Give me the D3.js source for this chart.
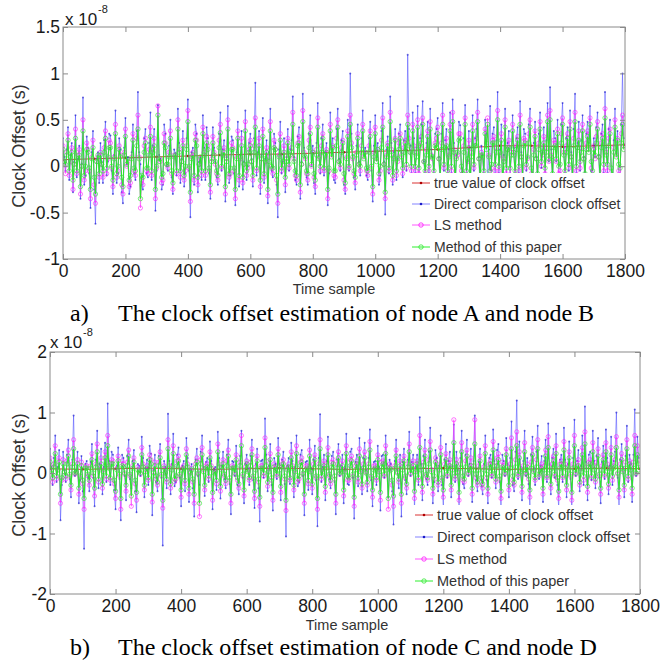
<!DOCTYPE html>
<html><head><meta charset="utf-8">
<script src="https://cdn.jsdelivr.net/npm/d3@7"></script>
<style>body{margin:0;background:#fff}svg{display:block}</style>
</head><body>
<svg id="c" width="662" height="661"></svg>
<script>
// ---- data (values in units of 1e-10 s, i.e. hundredths of the 1e-8 axis unit) ----
const xTicks = [0,200,400,600,800,1000,1200,1400,1600,1800];
const yTicksA = [-100,-50,0,50,100,150];
const yTickLabelsA = ["-1","-0.5","0","0.5","1","1.5"];
const yTicksB = [-200,-100,0,100,200];
const yTickLabelsB = ["-2","-1","0","1","2"];
const seriesNames = ["true value of clock offset","Direct comparison clock offset","LS method","Method of this paper"];
const captionA = ["a)","The clock offset estimation of node A and node B"];
const captionB = ["b)","The clock offset estimation of node C and node D"];
const sampleStep = 4;   // time samples between stored noisy points
const trueStep = 100;   // time samples between stored true-value points

const trueA = [7,8,9,10,11,12,13,13,14,15,16,17,18,20,22,22,21,22,23];
const directA = [
30,10,-5,18,42,-15,12,25,-28,5,55,-12,8,22,-35,3,74,-20,-10,32,20,-8,-45,15,38,-25,-62,8,15,-18,
25,5,-18,28,48,-10,5,35,33,-5,-30,12,60,-18,-8,30,18,-28,-40,20,52,2,10,-30,-22,15,45,-8,-15,38,
80,15,2,-20,-25,30,40,-8,-12,25,58,-15,22,40,-48,-5,66,12,8,-25,-20,45,35,0,-5,22,50,-12,-30,18,
14,-10,62,25,-18,8,38,-22,-8,30,72,-5,-55,15,20,-20,45,35,-28,5,10,-15,55,20,-15,42,30,-8,-35,12,
42,20,5,-12,-20,35,58,-5,18,28,-38,10,65,-18,-10,32,28,-8,-42,15,48,-22,12,38,-25,5,60,-15,0,25,
35,8,-22,30,90,-10,15,38,-30,12,52,-18,8,28,-40,15,62,-5,-12,35,25,-20,-55,18,48,-8,5,30,-28,10,
40,-5,18,28,75,10,-15,-20,32,42,-35,5,78,20,10,-12,-20,35,55,0,22,-18,-30,25,68,12,-8,30,45,-10,
15,25,-42,-8,58,18,30,-15,-18,40,62,8,-5,28,38,-20,-30,15,50,-5,100,35,12,-12,-25,22,45,5,-10,30,
60,12,20,-10,-15,30,48,-5,-38,22,55,10,25,-20,-10,38,68,5,-52,18,32,-8,75,25,-20,15,40,-15,8,35,
45,15,-12,28,38,-5,120,40,22,-10,58,30,-8,20,65,-12,30,45,70,5,-15,25,48,-8,62,18,10,-15,35,40,
52,10,-25,35,68,-5,28,40,-18,18,58,-10,72,25,-30,12,15,48,44,-8,-22,30,66,-15,5,38,-35,20,55,-5,
30,40,72,10,-28,22,12,-15,50,35,-20,18,65,-5,35,42,-10,28,80,-8,18,45,-32,12,62,-12,25,38,-15,20,
55,20,-18,30,42,-8,70,15,-25,40,35,-5,10,45,62,-12,-30,25,48,10,-20,35,58,-2,15,42,-12,28,68,5,
85,18,-20,38,30,5,50,-12,-10,45,68,20,-15,30,42,-5,60,15,-28,40,78,-10,25,48,-5,28,55,10,-22,35,
48,25,65,-5,-18,30,10,42,58,12,-25,35,45,-8,80,20,-10,40,50,-15,-30,28,62,15,38,-10,-15,45,100,30];
const lsA = [
22,5,-8,15,35,-10,5,20,-25,2,40,-8,12,18,-30,0,50,-15,-5,25,18,-5,-35,10,28,-20,-40,5,10,-12,
15,2,-12,20,38,-8,8,28,25,-2,-22,10,45,-12,-5,22,12,-20,-30,15,40,0,5,-22,-18,10,35,-5,-10,30,
55,10,-45,-15,-20,22,30,-5,-8,18,42,-10,18,30,-35,-2,65,8,5,-18,-15,35,25,2,-2,15,38,-8,-25,12,
10,-8,50,18,-12,5,28,-15,-5,22,60,-2,-38,10,15,-15,35,28,-20,2,8,-10,42,15,-10,32,22,-5,-28,8,
32,15,2,-8,-15,28,45,-2,12,20,-30,8,50,-12,-8,25,20,-5,-35,10,38,-15,8,30,-18,2,48,-10,-2,18,
28,5,-15,22,52,-5,10,30,-22,8,40,-12,5,20,-32,10,48,-2,-8,28,18,-15,-40,12,35,-5,2,22,-20,8,
30,-2,12,20,58,8,-10,-15,25,32,-28,2,60,15,8,-8,-15,28,42,0,15,-12,-22,18,52,10,-5,22,35,-5,
10,18,-35,-5,45,12,22,-10,-12,30,50,5,-2,20,28,-15,-25,10,38,-2,55,25,8,-8,-18,15,35,2,-5,22,
45,10,15,-5,-10,22,38,-2,-30,15,42,8,18,-15,-5,28,52,2,-35,12,25,-5,58,18,-15,10,30,-10,5,25,
35,12,-8,20,28,-2,55,30,15,-5,45,22,-5,15,50,-8,22,32,52,5,-10,18,38,-5,48,12,8,-10,25,30,
42,8,-18,25,55,-2,20,30,-12,12,45,-5,58,18,-22,10,12,35,35,-5,-15,22,52,-10,5,28,-25,15,45,-2,
22,30,58,8,-20,15,10,-10,40,25,52,12,-12,-2,28,32,-5,20,60,-5,12,35,-25,8,50,-8,18,28,-10,15,
45,15,-12,22,32,-5,55,10,-18,30,28,-2,8,35,50,-8,-22,18,38,8,-15,25,48,0,12,32,-8,20,55,5,
60,12,-15,28,25,5,40,-8,-5,35,52,15,-10,22,35,-2,48,10,-20,30,58,-5,20,38,-2,20,45,8,-15,25,
38,18,52,-2,-12,22,8,32,48,10,-18,25,35,-5,62,15,-5,30,40,-10,-22,20,50,12,30,-5,-10,35,55,22];
const paperA = [
18,5,2,12,28,-5,10,15,-15,2,30,-5,8,12,-22,0,38,-10,0,18,15,-2,-25,8,20,-12,-30,5,12,-8,
12,2,-5,15,30,-2,10,20,20,0,-15,8,35,-8,0,18,10,-12,-22,12,32,2,8,-15,-10,8,28,-2,-5,22,
40,8,-35,-10,-12,15,25,-2,-2,12,32,-5,15,22,-25,0,55,5,8,-12,-8,25,20,2,2,10,30,-5,-18,10,
12,-5,40,15,-5,5,22,-10,0,18,48,0,-28,8,12,-10,28,22,-12,2,10,-5,35,12,-5,25,18,-2,-20,5,
25,12,5,-5,-10,20,36,0,12,15,-22,5,40,-8,-2,18,18,-2,-25,8,30,-10,10,22,-12,2,38,-5,2,15,
22,5,-10,15,42,-2,12,22,-15,8,32,-8,8,15,-25,5,38,0,-2,20,18,-10,-30,10,28,-2,5,15,-12,5,
25,2,12,15,45,5,-5,-10,22,25,-20,2,48,12,10,-5,-8,20,35,2,15,-8,-15,12,42,8,0,15,30,-2,
12,15,-25,-2,38,10,20,-5,-5,22,42,5,2,15,25,-8,-18,8,32,0,45,20,10,-5,-12,12,30,2,0,15,
38,8,15,-2,-5,15,32,0,-22,10,35,5,18,-8,0,20,42,2,-28,10,22,-2,48,12,-10,8,28,-5,8,18,
30,10,-2,15,25,2,45,22,15,0,38,15,0,10,42,-2,20,25,45,5,-5,12,32,0,40,10,10,-5,22,20,
35,8,-10,18,45,2,20,22,-5,10,38,0,48,15,-15,8,15,28,30,0,-8,15,45,-5,8,20,-18,10,38,2,
22,22,48,8,-12,12,12,-5,35,18,45,10,-5,2,25,25,2,15,50,0,15,28,-18,5,42,-2,18,20,-2,12,
38,12,-5,18,28,0,45,10,-10,22,25,2,10,25,42,-2,-15,12,32,8,-8,18,40,5,15,25,-2,15,48,8,
50,10,-8,20,22,8,35,0,2,25,45,12,-5,15,30,2,40,10,-12,22,48,0,20,28,5,15,38,8,-8,18,
32,15,45,5,-5,18,12,25,40,10,-10,20,30,2,52,12,2,22,35,-2,-15,15,42,10,28,2,-2,25,45,18];

const trueB = [7,6,7,8,7,6,7,8,7,6,7,7,8,7,6,7,7,8,7];
const directB = [
40,10,-20,25,62,-15,10,38,-78,-20,35,5,-15,30,55,-10,-40,22,95,-5,5,35,-50,-12,28,-30,-125,15,20,-8,
-30,18,48,-8,-55,22,70,-25,15,40,-35,10,50,-15,115,20,-20,35,30,-28,-60,12,42,-10,-78,30,25,-5,-45,28,
55,-10,-25,20,38,-30,-65,15,12,-5,60,25,-40,8,22,-20,45,32,-70,5,30,-15,-30,28,48,-8,-120,20,10,-25,
98,20,-35,15,65,-22,-15,30,42,-8,-55,12,20,-30,58,25,-48,5,15,-25,-72,22,40,-5,-20,35,62,10,-38,18,
25,-15,52,20,-60,5,10,-28,68,25,-42,12,35,-10,-25,30,55,-18,-68,20,18,-5,45,-20,-35,28,70,-8,-50,15,
30,8,-20,28,55,-12,-58,15,40,-25,-80,20,22,-8,90,30,-30,12,48,-20,-62,25,15,-10,58,15,-45,22,35,-18,
-105,12,25,-18,50,20,-40,10,62,-22,-15,30,38,-5,-70,18,20,-28,55,8,-35,22,45,-12,-88,25,97,-15,10,30,
-45,20,60,-10,-25,28,35,-15,-68,22,48,-5,12,30,-50,10,65,-18,-20,35,40,-8,-75,18,30,-22,58,10,-35,25,
50,5,-30,25,72,-12,-55,18,20,-20,45,10,-62,28,30,-8,62,15,-40,22,15,-30,-85,20,55,5,-25,30,-72,18,
40,-12,-35,22,68,-5,18,30,-60,10,30,-20,92,15,-45,28,55,-10,-20,35,75,8,-50,-15,38,25,-30,12,62,-20,
-55,22,48,-8,20,35,-40,12,80,-15,35,5,-62,25,70,-18,-25,30,55,-5,15,40,-48,20,95,-12,-30,18,40,-22,
-35,15,62,-12,-50,25,30,-8,72,20,-25,38,48,-15,-60,30,20,-5,58,15,-40,25,85,-20,-30,35,120,-10,52,10,
-45,20,70,-5,25,-18,-55,30,60,8,-20,35,78,-10,12,28,-48,20,55,-15,82,15,-35,25,40,-8,65,-20,-58,22,
30,-15,75,22,-40,15,52,-10,-62,25,88,-5,20,38,-30,12,62,-20,110,18,-45,30,35,-12,70,20,-25,28,58,-8,
-50,18,45,-10,72,25,-35,12,60,-20,20,35,100,-8,-55,22,48,10,-40,28,78,-15,30,15,-48,30,105,-5,60,25];
const lsB = [
25,8,-15,15,45,-10,5,25,-50,-12,22,2,-10,20,38,-5,-28,15,55,-2,0,22,-35,-8,18,-18,-60,10,12,-5,
-20,12,32,-5,-38,15,48,-15,8,25,-25,5,35,-10,62,12,-12,22,20,-18,-42,8,28,-5,-60,20,15,-2,-30,18,
38,-5,-55,12,25,-18,-45,10,5,-2,42,15,-28,5,12,-12,30,22,-48,2,18,-10,-20,18,35,-5,-58,12,2,-15,
55,12,-25,10,45,-15,-10,20,28,-5,-40,8,12,-18,40,15,-35,2,8,-15,-50,15,25,-2,-72,22,42,5,-28,12,
15,-10,35,12,-45,2,5,-18,48,15,-30,8,22,-5,-18,20,38,-12,-50,12,10,-2,30,-12,-25,18,62,-5,-38,10,
20,5,-12,18,40,-8,-42,10,28,-15,-55,12,12,-5,58,20,-22,8,32,-12,-45,15,8,-5,40,10,-32,15,22,-10,
-62,8,15,-12,35,12,-28,5,45,-15,-10,18,25,-2,-50,12,12,-18,38,5,-25,15,30,-8,-60,15,55,-10,5,20,
-32,12,42,-5,-18,18,22,-10,-50,15,35,-2,5,20,-38,5,45,-12,-12,22,28,-5,-55,12,20,-15,40,5,-25,15,
35,2,-20,15,52,-8,-40,12,12,-12,30,5,-45,18,20,-5,45,10,-60,15,8,-20,-55,12,38,2,-15,20,-50,10,
28,-8,-25,15,48,-2,10,20,-42,5,20,-12,62,10,-32,18,38,-5,-12,22,52,5,-35,-10,25,15,-20,8,42,-12,
-40,15,32,-5,12,22,-28,8,88,-10,22,2,-45,15,50,-12,-15,20,38,-2,8,25,-35,12,88,-8,-20,12,28,-15,
-25,10,45,-8,-35,15,20,-5,52,12,-15,25,32,-10,-42,18,12,-2,40,10,-28,15,58,-12,-20,22,68,-5,35,5,
-32,12,50,-2,15,-10,-40,18,42,5,-12,22,55,-5,5,15,-35,12,38,-8,60,10,-25,15,28,-5,45,-12,-42,15,
20,-8,52,15,-28,10,35,-5,-45,15,62,-2,12,22,-20,8,42,-12,68,10,-32,18,22,-8,50,12,-15,18,40,-5,
-35,12,30,-5,50,15,-25,8,42,-12,12,22,60,-2,-40,15,32,5,-28,18,55,-10,20,10,-35,18,62,-2,45,15];
const paperB = [
18,5,-8,10,32,-5,5,18,-35,-8,15,2,-5,15,28,-2,-20,10,40,0,2,15,-25,-5,12,-12,-42,8,8,-2,
-12,8,22,0,-25,10,35,-10,5,15,-18,2,25,-5,45,8,-8,15,15,-12,-30,5,20,-2,-42,12,10,0,-20,12,
28,-2,-38,8,18,-12,-32,5,2,0,30,10,-20,2,8,-8,22,15,-35,0,12,-5,-15,12,25,-2,-45,8,0,-10,
40,8,-18,5,32,-10,-5,12,20,-2,-28,5,8,-12,30,10,-25,0,5,-10,-35,10,18,0,-50,15,30,2,-20,8,
10,-5,25,8,-32,0,2,-12,35,10,-22,5,15,-2,-12,12,28,-8,-35,8,8,0,22,-8,-18,12,45,-2,-28,5,
15,2,-8,12,30,-5,-30,5,20,-10,-40,8,8,0,42,12,-15,2,22,-8,-32,10,5,-2,30,5,-22,10,15,-5,
-45,5,10,-8,25,8,-20,2,32,-10,-5,12,18,0,-35,5,8,-12,28,2,-18,8,22,-5,-42,10,40,-5,2,12,
-22,8,30,-2,-12,10,15,-5,-35,8,25,0,2,12,-28,2,32,-5,-8,12,20,-2,-40,5,15,-8,28,2,-18,8,
25,0,-15,10,38,-5,-28,5,8,-8,22,2,-32,10,15,-2,32,5,-42,8,5,-12,-38,8,28,0,-10,12,-35,5,
20,-5,-18,10,35,0,5,12,-30,2,15,-8,42,5,-22,12,28,-2,-8,15,38,2,-25,-5,18,10,-15,5,30,-8,
-28,8,22,-2,8,12,-20,5,50,-5,15,0,-32,8,35,-5,-10,10,28,0,5,12,-25,5,48,-2,-15,5,20,-8,
-18,5,32,-2,-25,8,15,-2,38,5,-10,12,22,-5,-30,10,8,0,30,5,-20,8,40,-5,-15,10,45,-2,25,2,
-22,5,35,0,10,-5,-28,8,30,2,-8,10,40,-2,2,8,-25,5,28,-5,42,5,-18,8,20,-2,32,-8,-30,8,
15,-5,38,8,-20,5,25,-2,-32,8,45,0,8,12,-15,2,30,-5,48,5,-22,10,15,-5,35,5,-10,10,28,-2,
-25,5,22,-2,35,8,-18,2,30,-5,8,10,42,0,-28,8,22,2,-20,8,40,-5,15,5,-25,8,45,0,30,5];

// ---- layout / style ----
const FONT = "'Liberation Sans', Arial, sans-serif";
const SERIF = "'Liberation Serif', 'Times New Roman', serif";
const styles = [
  {line:"#d81e1e", lw:1.0, op:0.9,  marker:"dot",    mcol:"#b00000", r:1.3, mw:0},
  {line:"#4343ff", lw:0.8, op:0.65, marker:"dot",    mcol:"#1c1cc8", r:1.0, mw:0},
  {line:"#ff30ff", lw:0.7, op:0.8,  marker:"circle", mcol:"#ff10ff", r:2.1, mw:0.7},
  {line:"#18f018", lw:1.1, op:0.9,  marker:"circle", mcol:"#2ee82e", r:2.2, mw:0.7}
];
const panels = [
  {id:"a", box:{l:63,r:625,t:27,b:259}, yDomain:[-100,150], yTicks:yTicksA, yLabels:yTickLabelsA,
   series:[trueA,directA,lsA,paperA],
   legend:{x:410,y:173,w:215,h:86,rows:[183,204,225,247],lx:412,tx:434,fs:14},
   ylab:{x:19,y:146}, exp:{x:65,y:25,ex:98,ey:13}, xlab:{x:334,y:294}, cap:{y:321,text:captionA}},
  {id:"b", box:{l:50,r:640,t:352,b:594}, yDomain:[-200,200], yTicks:yTicksB, yLabels:yTickLabelsB,
   series:[trueB,directB,lsB,paperB],
   legend:{x:413,y:505,w:227,h:89,rows:[515,537,559,581],lx:415,tx:437,fs:14.5},
   ylab:{x:19,y:475}, exp:{x:50,y:348,ex:83,ey:336}, xlab:{x:347,y:630}, cap:{y:655,text:captionB}}
];

const svg = d3.select("#c");

function drawMarkers(g, pts, st, x, y){
  const c = g.selectAll(null).data(pts).join("circle")
    .attr("cx",d=>x(d[0])).attr("cy",d=>y(d[1])).attr("r",st.r).attr("opacity",st.op);
  if(st.marker==="circle") c.attr("fill","none").attr("stroke",st.mcol).attr("stroke-width",st.mw);
  else c.attr("fill",st.mcol);
}

panels.forEach(p=>{
  const x = d3.scaleLinear().domain([0,1800]).range([p.box.l,p.box.r]);
  const y = d3.scaleLinear().domain(p.yDomain).range([p.box.b,p.box.t]);
  const clipId = "clip"+p.id;
  svg.append("clipPath").attr("id",clipId).append("rect")
    .attr("x",p.box.l).attr("y",p.box.t).attr("width",p.box.r-p.box.l).attr("height",p.box.b-p.box.t);
  const dg = svg.append("g").attr("clip-path",`url(#${clipId})`);
  const line = d3.line().x(d=>x(d[0])).y(d=>y(d[1]));
  p.series.forEach((arr,si)=>{
    const step = si===0 ? trueStep : sampleStep;
    const pts = arr.map((v,i)=>[i*step, v]);
    const st = styles[si];
    const sg = dg.append("g");
    sg.append("path").datum(pts).attr("d",line).attr("fill","none")
      .attr("stroke",st.line).attr("stroke-width",st.lw).attr("opacity",st.op);
    drawMarkers(sg, pts, st, x, y);
  });

  // legend (white background, no frame)
  const L = p.legend;
  const lg = svg.append("g");
  lg.append("rect").attr("x",L.x).attr("y",L.y).attr("width",L.w).attr("height",L.h).attr("fill","#fff");
  seriesNames.forEach((name,i)=>{
    const st = styles[i], yy = L.rows[i];
    lg.append("line").attr("x1",L.lx).attr("x2",L.lx+18).attr("y1",yy).attr("y2",yy)
      .attr("stroke",st.line).attr("stroke-width",1).attr("opacity",st.op);
    const m = lg.append("circle").attr("cx",L.lx+9).attr("cy",yy);
    if(st.marker==="circle") m.attr("r",2.2).attr("fill","none").attr("stroke",st.mcol).attr("stroke-width",0.8);
    else m.attr("r",1.3).attr("fill",st.mcol);
    lg.append("text").attr("x",L.tx).attr("y",yy).attr("dy","0.35em")
      .attr("font-family",FONT).attr("font-size",L.fs).attr("fill","#333").text(name);
  });

  // frame
  svg.append("rect").attr("x",p.box.l).attr("y",p.box.t)
    .attr("width",p.box.r-p.box.l).attr("height",p.box.b-p.box.t)
    .attr("fill","none").attr("stroke","#8a8a8a").attr("stroke-width",1);

  const styleAxis = g=>{
    g.select(".domain").remove();
    g.selectAll(".tick line").attr("stroke","#8a8a8a");
    g.selectAll(".tick text").attr("fill","#1a1a1a").attr("font-family",FONT).attr("font-size",17.5);
  };
  svg.append("g").attr("transform",`translate(0,${p.box.b})`)
    .call(d3.axisBottom(x).tickValues(xTicks).tickSizeInner(-5).tickSizeOuter(0).tickPadding(6).tickFormat(d3.format("d")))
    .call(styleAxis);
  svg.append("g").attr("transform",`translate(0,${p.box.t})`)
    .call(d3.axisTop(x).tickValues(xTicks).tickSizeInner(-5).tickSizeOuter(0).tickFormat(""))
    .call(styleAxis);
  svg.append("g").attr("transform",`translate(${p.box.l},0)`)
    .call(d3.axisLeft(y).tickValues(p.yTicks).tickSizeInner(-5).tickSizeOuter(0).tickPadding(3)
      .tickFormat((d,i)=>p.yLabels[i]))
    .call(styleAxis);
  svg.append("g").attr("transform",`translate(${p.box.r},0)`)
    .call(d3.axisRight(y).tickValues(p.yTicks).tickSizeInner(-5).tickSizeOuter(0).tickFormat(""))
    .call(styleAxis);

  // exponent
  svg.append("text").attr("x",p.exp.x).attr("y",p.exp.y).attr("font-family",FONT).attr("font-size",17)
    .attr("fill","#1a1a1a").text("x 10");
  svg.append("text").attr("x",p.exp.ex).attr("y",p.exp.ey).attr("font-family",FONT).attr("font-size",11)
    .attr("fill","#1a1a1a").text("-8");

  // axis titles
  svg.append("text").attr("transform",`translate(${p.ylab.x},${p.ylab.y}) rotate(-90)`)
    .attr("text-anchor","middle").attr("dy","0.35em").attr("font-family",FONT).attr("font-size",18)
    .attr("fill","#333").text("Clock Offset (s)");
  svg.append("text").attr("x",p.xlab.x).attr("y",p.xlab.y).attr("text-anchor","middle")
    .attr("font-family",FONT).attr("font-size",14.5).attr("fill","#333").text("Time sample");

  // caption
  svg.append("text").attr("x",70).attr("y",p.cap.y).attr("font-family",SERIF).attr("font-size",24)
    .attr("fill","#000").text(p.cap.text[0]);
  svg.append("text").attr("x",118).attr("y",p.cap.y).attr("font-family",SERIF).attr("font-size",24)
    .attr("fill","#000").text(p.cap.text[1]);
});
</script>
</body></html>
